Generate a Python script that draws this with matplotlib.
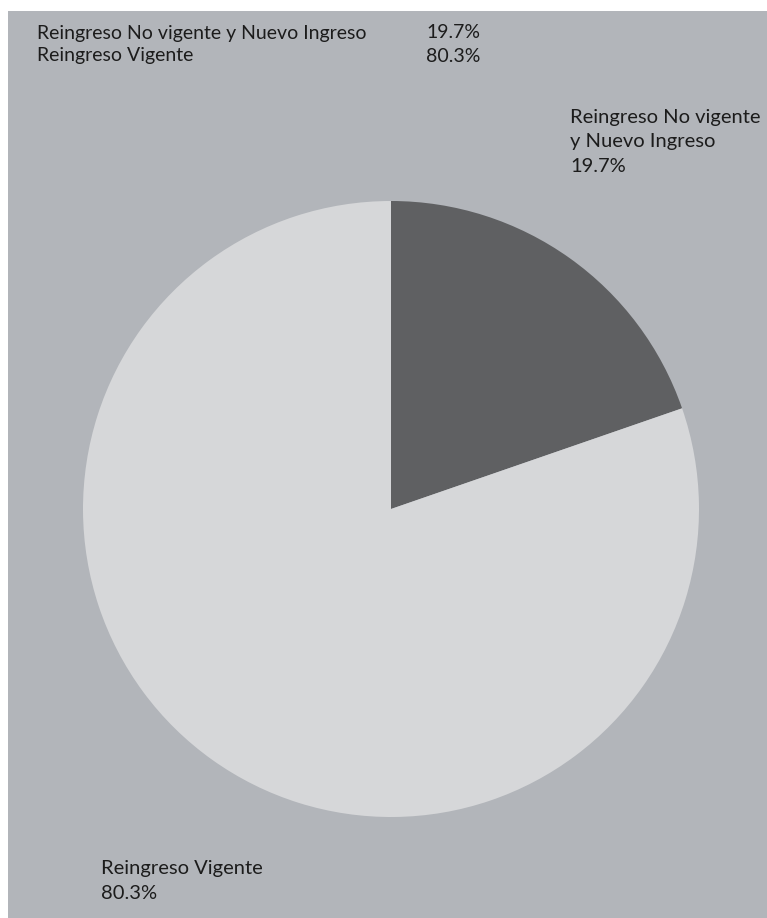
import matplotlib.pyplot as plt

labels = ["Reingreso No vigente y Nuevo Ingreso", "Reingreso Vigente"]
pcts = [19.7, 80.3]
slice_labels = ["Reingreso No vigente\ny Nuevo Ingreso", "Reingreso Vigente"]
colors = ["#5f6062", "#d6d7d9"]

W, H = 767, 918
fig = plt.figure(figsize=(W / 100, H / 100), dpi=100)
fig.patch.set_facecolor("white")

# gray backdrop (white strip on top/left like the source)
bg = fig.add_axes([8 / W, 0, 1 - 8 / W, 1 - 11 / H])
bg.set_facecolor("#b2b5ba")
bg.set_xticks([])
bg.set_yticks([])
for s in bg.spines.values():
    s.set_visible(False)

font = dict(family="Lato", color="#1c1c1c", fontsize=14)

# pie: center (391, 509), radius 308 px
cx, cy, r = 391, 509, 308
ax = fig.add_axes([(cx - r) / W, (H - cy - r) / H, 2 * r / W, 2 * r / H])
ax.pie(pcts, colors=colors, startangle=90, counterclock=False,
       wedgeprops=dict(linewidth=0), radius=1)
ax.set_xlim(-1, 1)
ax.set_ylim(-1, 1)
ax.set_aspect("equal")
ax.axis("off")

# header table
for i, (lab, p) in enumerate(zip(labels, pcts)):
    y = 1 - (33 + 23 * i) / H
    fig.text(37 / W, y, lab, va="center", ha="left", **font)
    fig.text(426 / W, y, f"{p}%", va="center", ha="left", **font)

# slice labels
lab_font = dict(font, fontsize=14.5)
fig.text(570 / W, 1 - 142 / H, f"{slice_labels[0]}\n{pcts[0]}%", va="center",
         ha="left", linespacing=1.52, **lab_font)
fig.text(101 / W, 1 - 881 / H, f"{slice_labels[1]}\n{pcts[1]}%", va="center",
         ha="left", linespacing=1.52, **lab_font)

fig.savefig("out.png", dpi=100)
